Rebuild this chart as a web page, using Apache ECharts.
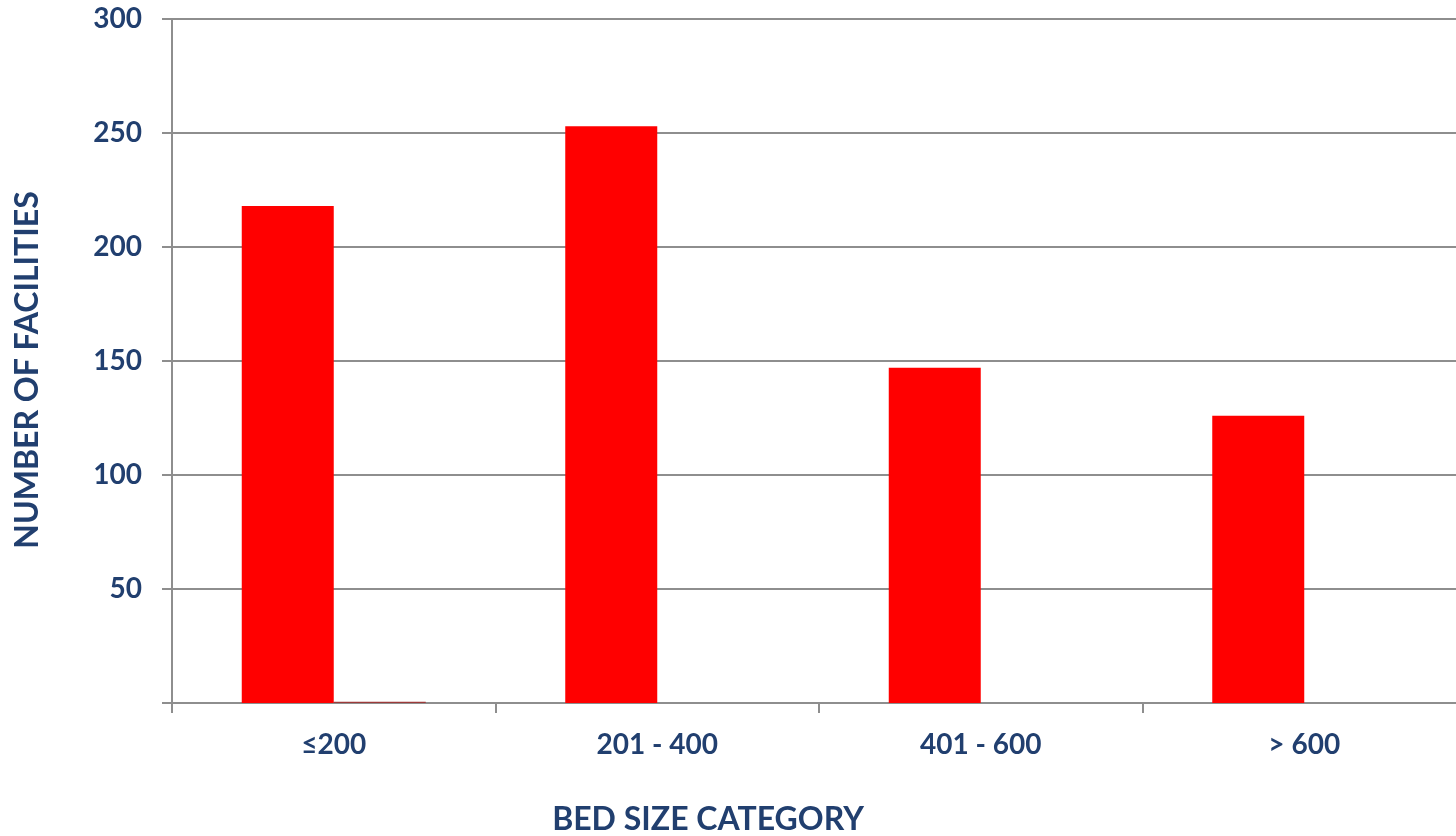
<!DOCTYPE html>
<html>
<head>
<meta charset="utf-8">
<script src="https://cdn.jsdelivr.net/npm/echarts@6/dist/echarts.min.js"></script>
<style>
  html, body { margin: 0; padding: 0; background: #ffffff; }
  #chart { width: 1456px; height: 836px; }
</style>
</head>
<body>
<div id="chart"></div>
<script>
// Bed size categories and facility counts
const categories = ['≤200', '201 - 400', '401 - 600', '> 600'];
const facilities = [218, 253, 147, 126];
const secondary = [0.5, 0, 0, 0];
const yTicks = [0, 50, 100, 150, 200, 250, 300];

const textColor = '#213f6f';
const lineColor = '#8e8e8e';
const fontFamily = 'Lato, "Open Sans", sans-serif';

const chart = echarts.init(document.getElementById('chart'), null, { renderer: 'canvas' });

chart.setOption({
  backgroundColor: '#ffffff',
  animation: false,
  // the plot area runs slightly past the right edge of the canvas
  grid: { left: 172, top: 19, right: -10, bottom: 133, containLabel: false, outerBoundsMode: 'none' },
  xAxis: {
    type: 'category',
    data: categories,
    boundaryGap: true,
    axisLine: { show: true, lineStyle: { color: lineColor, width: 2 } },
    axisTick: { show: true, length: 10, lineStyle: { color: lineColor, width: 2 } },
    axisLabel: {
      color: textColor, fontFamily: fontFamily, fontWeight: 'bold', fontSize: 28, margin: 28
    },
    splitLine: { show: false }
  },
  yAxis: {
    type: 'value',
    min: yTicks[0],
    max: yTicks[yTicks.length - 1],
    interval: 50,
    axisLine: { show: true, lineStyle: { color: lineColor, width: 2 } },
    axisTick: { show: true, length: 10, lineStyle: { color: lineColor, width: 2 } },
    axisLabel: {
      color: textColor, fontFamily: fontFamily, fontWeight: 'bold', fontSize: 28, margin: 30,
      formatter: v => (v === 0 ? '' : String(v))
    },
    splitLine: { show: true, lineStyle: { color: lineColor, width: 2 } }
  },
  series: [
    {
      type: 'bar',
      data: facilities,
      barWidth: 92,
      barGap: '0%',
      itemStyle: { color: '#ff0000' }
    },
    {
      type: 'bar',
      data: secondary,
      barWidth: 92,
      barGap: '0%',
      itemStyle: { color: '#9c3a3a' }
    }
  ],
  graphic: [
    {
      type: 'text',
      x: 708, y: 820,
      style: {
        text: 'BED SIZE CATEGORY',
        fill: textColor, font: 'bold 32px ' + fontFamily,
        textAlign: 'center', textVerticalAlign: 'middle'
      }
    },
    {
      type: 'text',
      x: 28, y: 370,
      rotation: Math.PI / 2,
      style: {
        text: 'NUMBER OF FACILITIES',
        fill: textColor, font: 'bold 32px ' + fontFamily,
        textAlign: 'center', textVerticalAlign: 'middle'
      }
    }
  ]
});
</script>
</body>
</html>
